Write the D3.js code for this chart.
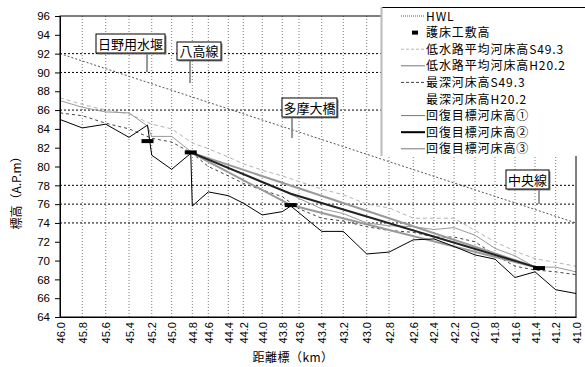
<!DOCTYPE html>
<html><head><meta charset="utf-8">
<script src="https://cdn.jsdelivr.net/npm/d3@7"></script>
<style>
body{margin:0;background:#fff}
svg{display:block}
text{font-family:"Liberation Sans",Arial,sans-serif}
.jp{font-family:"Noto Sans CJK JP","Noto Sans",sans-serif}
</style>
</head><body>
<svg id="chart" width="585" height="367"></svg>
<script>
// Cross-section stations: nominal label and surveyed distance (km)
const stationLabels = ["46.0","45.8","45.6","45.4","45.2","45.0","44.8","44.6","44.4","44.2","44.0","43.8","43.6",
  "43.4","43.2","43.0","42.8","42.6","42.4","42.2","42.0","41.8","41.6","41.4","41.2","41.0"];
const stationKm = [46.000,45.784,45.557,45.331,45.111,44.918,44.718,44.563,44.369,44.224,44.040,43.846,43.684,
  43.464,43.255,43.028,42.812,42.577,42.376,42.182,41.979,41.785,41.591,41.397,41.197,41.000];
const yTicks = [64,66,68,70,72,74,76,78,80,82,84,86,88,90,92,94,96];
const refLevels = [92,90,86,78,76,74];

// Structures (km) with bed-protection crest elevation
const structures = [
  {name:"日野用水堰", km:45.152, crest:82.7},
  {name:"八高線",     km:44.733, crest:81.5},
  {name:"多摩大橋",   km:43.764, crest:75.9},
  {name:"中央線",     km:41.358, crest:69.2}
];

// Profiles: [km, elevation]
const hwl = [[46.0,92.0],[41.0,74.0]];
const lowAvgS49 = [[46.000,87.3],[45.784,86.6],[45.557,86.0],[45.331,85.6],[45.111,84.5],[44.918,84.0],[44.718,82.5],
  [44.563,81.9],[44.369,81.0],[44.224,80.3],[44.040,79.6],[43.846,79.0],[43.684,78.4],[43.464,77.6],[43.255,77.0],
  [43.028,76.0],[42.812,75.6],[42.577,74.5],[42.376,74.5],[42.182,74.5],[41.979,73.2],[41.785,72.0],[41.591,71.0],
  [41.397,70.2],[41.197,69.8],[41.000,69.4]];
const lowAvgH20 = [[46.000,87.0],[45.784,86.3],[45.557,85.8],[45.331,85.7],[45.152,84.3],[45.111,83.2],[44.918,83.2],
  [44.733,81.6],[44.563,80.8],[44.369,79.8],[44.224,79.2],[44.040,78.3],[43.846,77.5],[43.684,76.6],[43.464,75.5],
  [43.255,75.0],[43.028,74.0],[42.812,73.7],[42.577,73.6],[42.376,73.3],[42.182,73.5],[41.979,72.7],[41.785,71.3],
  [41.591,70.5],[41.397,69.3],[41.197,69.3],[41.000,68.8]];
const deepS49 = [[46.000,85.7],[45.784,85.4],[45.557,84.6],[45.331,84.0],[45.111,83.0],[44.918,82.6],[44.718,81.4],
  [44.563,80.0],[44.369,79.0],[44.224,78.2],[44.040,77.5],[43.846,76.8],[43.684,75.5],[43.464,74.5],[43.255,74.2],
  [43.028,73.6],[42.812,73.2],[42.577,73.0],[42.376,72.5],[42.182,72.5],[41.979,72.0],[41.785,70.6],[41.591,69.4],
  [41.397,69.0],[41.197,68.8],[41.000,68.5]];
const deepH20 = [[46.000,85.0],[45.784,84.1],[45.557,84.5],[45.331,83.1],[45.152,84.4],[45.111,81.2],[44.918,79.7],
  [44.733,81.4],[44.718,75.8],[44.563,77.3],[44.369,76.9],[44.224,76.1],[44.040,74.85],[43.846,75.2],[43.764,75.8],
  [43.464,73.1],[43.255,73.1],[43.028,70.7],[42.812,70.9],[42.577,72.2],[42.376,72.3],[42.182,71.5],[41.979,70.6],
  [41.785,70.15],[41.591,68.2],[41.397,68.8],[41.197,66.9],[41.000,66.5]];
const target1 = [[44.733,81.5],[41.358,69.2]];
const target2 = [[44.733,81.5],[43.764,77.1],[41.358,69.2]];
const target3 = [[44.733,81.5],[43.764,75.9],[41.358,69.2]];

const svg = d3.select("#chart");
const W = 585, H = 367;
const plotL = 60, plotR = 576, plotT = 16, plotB = 317;
const x = d3.scaleLinear().domain([46.0, 41.0]).range([plotL, plotR]);
const y = d3.scaleLinear().domain([64, 96]).range([plotB, plotT]);

svg.append("rect").attr("width", W).attr("height", H).attr("fill", "#fff");

// vertical station gridlines
svg.append("g").selectAll("line").data(stationKm.slice(1, -1)).join("line")
  .attr("x1", d => x(d)).attr("x2", d => x(d)).attr("y1", plotT).attr("y2", plotB)
  .attr("stroke", "#7a7a7a").attr("stroke-width", 1).attr("stroke-dasharray", "1,2");

// horizontal reference levels
svg.append("g").selectAll("line").data(refLevels).join("line")
  .attr("x1", plotL).attr("x2", plotR).attr("y1", d => y(d)).attr("y2", d => y(d))
  .attr("stroke", "#000").attr("stroke-width", 1).attr("stroke-dasharray", "2,2");

const line = d3.line().x(d => x(d[0])).y(d => y(d[1]));
const series = [
  {data: hwl,       stroke:"#555", width:1,   dash:"2,2"},
  {data: lowAvgS49, stroke:"#b5b5b5", width:1, dash:"4,3"},
  {data: deepS49,   stroke:"#444", width:1,   dash:"3,3"},
  {data: lowAvgH20, stroke:"#9a9a9a", width:1, dash:null},
  {data: target1,   stroke:"#9a9a9a", width:2, dash:null},
  {data: target3,   stroke:"#9a9a9a", width:2, dash:null},
  {data: deepH20,   stroke:"#000", width:1,   dash:null},
  {data: target2,   stroke:"#222", width:2,   dash:null}
];
svg.append("g").selectAll("path").data(series).join("path")
  .attr("d", d => line(d.data)).attr("fill", "none")
  .attr("stroke", d => d.stroke).attr("stroke-width", d => d.width)
  .attr("stroke-dasharray", d => d.dash);

// bed protection crest markers
svg.append("g").selectAll("rect").data(structures).join("rect")
  .attr("x", d => x(d.km) - 6).attr("y", d => y(d.crest) - 2)
  .attr("width", 12).attr("height", 4).attr("fill", "#000");

// frame
svg.append("rect").attr("x", plotL).attr("y", plotT).attr("width", plotR - plotL).attr("height", plotB - plotT)
  .attr("fill", "none").attr("stroke", "#000").attr("stroke-width", 1);

// axes
const yAxis = svg.append("g").attr("transform", `translate(${plotL},0)`)
  .call(d3.axisLeft(y).tickValues(yTicks).tickSize(5).tickPadding(5).tickFormat(d3.format("d")));
yAxis.select(".domain").attr("stroke", "#000");
yAxis.selectAll("text").attr("font-size", 11.5).attr("fill", "#000")
  .attr("font-family", "'Liberation Sans',Arial,sans-serif");

const xAxis = svg.append("g").attr("transform", `translate(0,${plotB})`)
  .call(d3.axisBottom(x).tickValues(stationKm).tickSize(0).tickFormat((d, i) => stationLabels[i]));
xAxis.select(".domain").attr("stroke", "#000");
// labels run upward and end just below the axis
xAxis.selectAll(".tick text").attr("font-size", 11).attr("fill", "#000")
  .attr("font-family", "'Liberation Sans',Arial,sans-serif")
  .attr("text-anchor", "end").attr("dy", null)
  .attr("transform", "rotate(-90)").attr("x", -5).attr("y", 4);

// axis titles
svg.append("text").attr("class", "jp").attr("transform", "translate(21,190) rotate(-90)")
  .attr("text-anchor", "middle").attr("font-size", 12).text("標高（A.P.m）");
svg.append("text").attr("class", "jp").attr("x", 293).attr("y", 362)
  .attr("text-anchor", "middle").attr("font-size", 12).attr("letter-spacing", 0.5).text("距離標（km）");

// structure labels with leaders
const labels = [
  {text:"日野用水堰", bx:96,  by:34,  bw:69, bh:19, lx:147, ly2:72},
  {text:"八高線",     bx:177, by:42,  bw:44, bh:18, lx:190, ly2:83},
  {text:"多摩大橋",   bx:282, by:98,  bw:55, bh:19, lx:292, ly2:138},
  {text:"中央線",     bx:506, by:170, bw:43, bh:19, lx:539, ly2:204}
];
const lg = svg.append("g");
lg.selectAll("line").data(labels).join("line")
  .attr("x1", d => d.lx).attr("x2", d => d.lx).attr("y1", d => d.by + d.bh).attr("y2", d => d.ly2)
  .attr("stroke", "#777").attr("stroke-width", 1.5);
lg.selectAll("rect.sh").data(labels).join("rect").attr("class", "sh")
  .attr("x", d => d.bx + 1.5).attr("y", d => d.by + 1.5).attr("width", d => d.bw).attr("height", d => d.bh)
  .attr("fill", "#888");
lg.selectAll("rect.bx").data(labels).join("rect").attr("class", "bx")
  .attr("x", d => d.bx).attr("y", d => d.by).attr("width", d => d.bw).attr("height", d => d.bh)
  .attr("fill", "#fff").attr("stroke", "#000").attr("stroke-width", 1);
lg.selectAll("text").data(labels).join("text").attr("class", "jp")
  .attr("x", d => d.bx + d.bw / 2).attr("y", d => d.by + d.bh / 2 + 5)
  .attr("text-anchor", "middle").attr("font-size", 13).text(d => d.text);

// legend
const legendItems = [
  {label:"HWL",               kind:"line", stroke:"#555", width:1, dash:"1,1"},
  {label:"護床工敷高",         kind:"bar"},
  {label:"低水路平均河床高S49.3", kind:"line", stroke:"#b5b5b5", width:1, dash:"3,2"},
  {label:"低水路平均河床高H20.2", kind:"line", stroke:"#777", width:1, dash:null},
  {label:"最深河床高S49.3",     kind:"line", stroke:"#444", width:1, dash:"3,2"},
  {label:"最深河床高H20.2",     kind:"none"},
  {label:"回復目標河床高①",     kind:"line", stroke:"#777", width:1, dash:null},
  {label:"回復目標河床高②",     kind:"line", stroke:"#000", width:2, dash:null},
  {label:"回復目標河床高③",     kind:"line", stroke:"#777", width:1, dash:null}
];
const leg = svg.append("g");
leg.append("rect").attr("x", 381).attr("y", 7).attr("width", 210).attr("height", 149).attr("fill", "#fff");
leg.append("line").attr("x1", 381).attr("x2", 585).attr("y1", 7.5).attr("y2", 7.5).attr("stroke", "#000");
leg.append("line").attr("x1", 381.5).attr("x2", 381.5).attr("y1", 7).attr("y2", 156).attr("stroke", "#bbb").attr("stroke-width", 2);
const rowY = i => 16 + i * 16.6;
legendItems.forEach((d, i) => {
  const cy = rowY(i);
  if (d.kind === "line") {
    leg.append("line").attr("x1", 401).attr("x2", 425).attr("y1", cy).attr("y2", cy)
      .attr("stroke", d.stroke).attr("stroke-width", d.width).attr("stroke-dasharray", d.dash);
  } else if (d.kind === "bar") {
    leg.append("rect").attr("x", 412).attr("y", cy - 2).attr("width", 6).attr("height", 4).attr("fill", "#000");
  }
  leg.append("text").attr("class", "jp").attr("x", 426).attr("y", cy + 4.5)
    .attr("font-size", 12).attr("letter-spacing", 0.9).attr("fill", "#000").text(d.label);
});
</script>
</body></html>
